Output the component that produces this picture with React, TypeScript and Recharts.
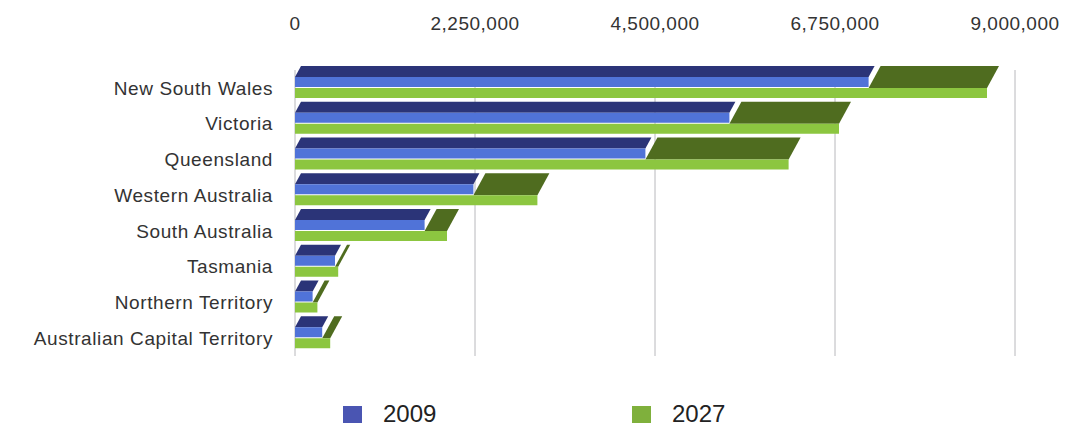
import { BarChart, Bar, XAxis, YAxis, CartesianGrid, Legend } from 'recharts';

const states = [
  'New South Wales',
  'Victoria',
  'Queensland',
  'Western Australia',
  'South Australia',
  'Tasmania',
  'Northern Territory',
  'Australian Capital Territory',
];
const pop2009 = [7170000, 5430000, 4380000, 2230000, 1620000, 500000, 220000, 340000];
const pop2027 = [8650000, 6800000, 6170000, 3030000, 1900000, 540000, 280000, 440000];
const xTicks = [0, 2250000, 4500000, 6750000, 9000000];

const data = states.map((name, i) => ({ name, y2009: pop2009[i], y2027: pop2027[i] }));

const BLUE_FRONT = '#5073d8';
const BLUE_TOP = '#2b3478';
const GREEN_FRONT = '#8cc640';
const GREEN_TOP = '#4f6c1f';
const FONT = 'Liberation Sans, Arial, sans-serif';

// front face + slanted top face, fake 3d
const BlueBar = (props: any) => {
  const { x, y, width, height } = props;
  const dy = 11;
  const dx = 6;
  return (
    <g>
      <polygon
        points={`${x},${y} ${x + width},${y} ${x + width + dx},${y - dy} ${x + dx},${y - dy}`}
        fill={BLUE_TOP}
      />
      <rect x={x} y={y} width={width} height={height} fill={BLUE_FRONT} />
    </g>
  );
};

const GreenBar = (props: any) => {
  const { x, y, width, height, payload } = props;
  const bw = width * (payload.y2009 / payload.y2027);
  const dy = 22;
  const dx = 12;
  const sx = Math.min(x + bw, x + width);
  return (
    <g>
      {width > bw && (
        <polygon
          points={`${sx},${y} ${x + width},${y} ${x + width + dx},${y - dy} ${sx + dx},${y - dy}`}
          fill={GREEN_TOP}
        />
      )}
      <rect x={x} y={y} width={width} height={height} fill={GREEN_FRONT} />
    </g>
  );
};

const LegendBox = (props: any) => {
  const { payload } = props;
  const colors: Record<string, string> = { y2009: '#4a55b2', y2027: '#7fb03c' };
  return (
    <div style={{ display: 'flex', paddingLeft: 343, paddingTop: 44, fontFamily: FONT }}>
      {payload.map((p: any) => (
        <div key={p.value} style={{ display: 'flex', alignItems: 'center', width: 289 }}>
          <span style={{ width: 19, height: 17, background: colors[p.dataKey], display: 'inline-block' }} />
          <span style={{ marginLeft: 21, fontSize: 24, color: '#222' }}>{p.value}</span>
        </div>
      ))}
    </div>
  );
};

export default function App() {
  return (
    <div style={{ position: 'absolute', left: 0, top: 0, background: '#fff' }}>
      <BarChart
        width={1076}
        height={429}
        data={data}
        layout="vertical"
        margin={{ top: 10, right: 61, bottom: 5, left: 0 }}
        barSize={10}
        barGap={1}
      >
        <CartesianGrid horizontal={false} stroke="#b8b8bc" />
        <XAxis
          type="number"
          orientation="top"
          domain={[0, 9000000]}
          ticks={xTicks}
          tickFormatter={(v: number) => v.toLocaleString('en-US')}
          axisLine={false}
          tickLine={false}
          tickMargin={34}
          tick={{ fill: '#333', fontSize: 19, letterSpacing: 0.5, fontFamily: FONT }}
          height={60}
        />
        <YAxis
          type="category"
          dataKey="name"
          width={295}
          axisLine={false}
          tickLine={false}
          tickMargin={16}
          tick={{ fill: '#333', fontSize: 19, letterSpacing: 0.6, fontFamily: FONT }}
        />
        <Legend verticalAlign="bottom" height={68} content={<LegendBox />} />
        <Bar dataKey="y2009" name="2009" fill={BLUE_FRONT} shape={<BlueBar />} isAnimationActive={false} />
        <Bar dataKey="y2027" name="2027" fill={GREEN_FRONT} shape={<GreenBar />} isAnimationActive={false} />
      </BarChart>
    </div>
  );
}
